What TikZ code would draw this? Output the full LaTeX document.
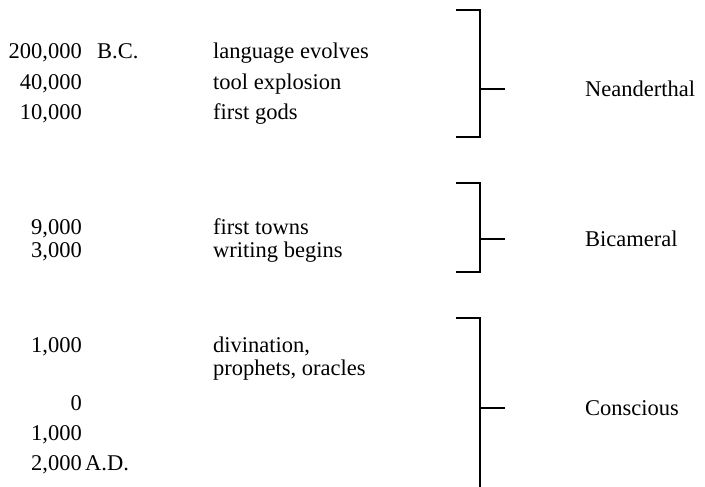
\documentclass[tikz,border=0pt]{standalone}
\usepackage{fontspec}
\setmainfont{Liberation Serif}
\usepackage{tikz}

\begin{document}
\begin{tikzpicture}[x=1pt,y=-1pt]
  % Define styles
  \tikzstyle{year} = [anchor=base east, inner sep=0pt, font=\fontsize{22.5}{27}\selectfont]
  \tikzstyle{era} = [anchor=base west, inner sep=0pt, font=\fontsize{22.5}{27}\selectfont]
  \tikzstyle{event} = [anchor=base west, inner sep=0pt, font=\fontsize{22.5}{27}\selectfont]
  \tikzstyle{stage} = [anchor=west, inner sep=0pt, font=\fontsize{22.5}{27}\selectfont]
  \tikzstyle{bracket} = [line width=1.6pt, line join=miter]

  \useasboundingbox (0,0) rectangle (705,487);

  % Years
  \node[year] (y200k) at (82,59) {200,000};
  \node[era] (bc) at (97,59) {B.C.};
  \node[year] (y40k) at (82,89) {40,000};
  \node[year] (y10k) at (82,120) {10,000};
  \node[year] (y9k) at (82,234) {9,000};
  \node[year] (y3k) at (82,257) {3,000};
  \node[year] (y1kbc) at (82,352) {1,000};
  \node[year] (y0) at (82,410) {0};
  \node[year] (y1kad) at (82,440) {1,000};
  \node[year] (y2k) at (82,470) {2,000};
  \node[era] (ad) at (85,470) {A.D.};

  % Events
  \node[event] (lang) at (213,59) {language evolves};
  \node[event] (tool) at (213,89) {tool explosion};
  \node[event] (gods) at (213,120) {first gods};
  \node[event] (towns) at (213,234) {first towns};
  \node[event] (writ) at (213,257) {writing begins};
  \node[event] (divin) at (213,352) {divination,};
  \node[event] (proph) at (213,375) {prophets, oracles};

  % Stages
  \node[stage] (nean) at (585,89) {Neanderthal};
  \node[stage] (bica) at (585,239) {Bicameral};
  \node[stage] (cons) at (585,408) {Conscious};

  % Brackets
  \coordinate (nean top) at (456,10);
  \coordinate (nean bot) at (456,137);
  \coordinate (nean mid) at (480,89);
  \coordinate (bica top) at (456,183);
  \coordinate (bica bot) at (456,272);
  \coordinate (bica mid) at (480,239);
  \coordinate (cons top) at (456,318);
  \coordinate (cons bot) at (480,487);
  \coordinate (cons mid) at (480,408);

  \draw[bracket] (nean top) -- ++(24,0) |- (nean bot);
  \draw[bracket] (nean mid) -- ++(25,0);
  \draw[bracket] (bica top) -- ++(24,0) |- (bica bot);
  \draw[bracket] (bica mid) -- ++(25,0);
  \draw[bracket] (cons top) -- ++(24,0) -- (cons bot);
  \draw[bracket] (cons mid) -- ++(25,0);
\end{tikzpicture}
\end{document}
